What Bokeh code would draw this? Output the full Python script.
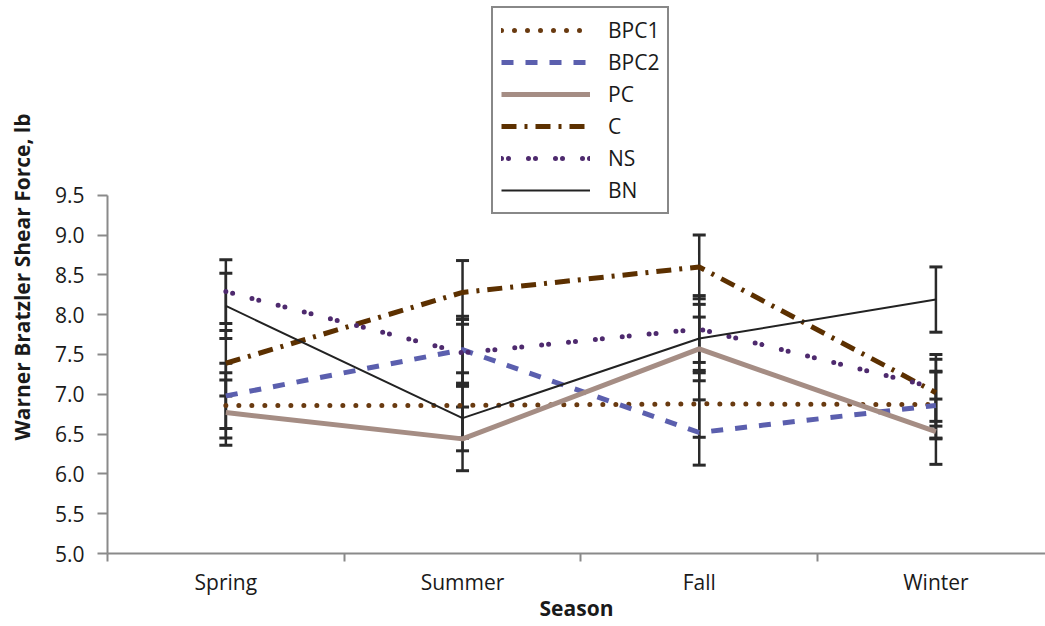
from bokeh.plotting import figure
from bokeh.models import (ColumnDataSource, Whisker, TeeHead, FixedTicker, Range1d,
                          PrintfTickFormatter)
from bokeh.embed import file_html
from bokeh.resources import INLINE

# ---------------- data ----------------
seasons = ["Spring", "Summer", "Fall", "Winter"]
y_ticks = [5.0, 5.5, 6.0, 6.5, 7.0, 7.5, 8.0, 8.5, 9.0, 9.5]

bpc1 = [6.86, 6.86, 6.88, 6.87]
bpc2 = [6.98, 7.56, 6.52, 6.86]
pc = [6.77, 6.44, 7.57, 6.53]
c = [7.39, 8.28, 8.60, 7.02]
ns = [8.29, 7.52, 7.82, 7.08]
bn = [8.11, 6.70, 7.70, 8.19]

bpc1_err = [0.41, 0.41, 0.42, 0.42]
bpc2_err = [0.41, 0.42, 0.41, 0.42]
pc_err = [0.41, 0.40, 0.40, 0.41]
c_err = [0.41, 0.40, 0.40, 0.42]
ns_err = [0.40, 0.42, 0.42, 0.42]
bn_err = [0.41, 0.41, 0.43, 0.41]

FONT = "Open Sans"
TXT = "#1a1a1a"
AXC = "#8a8a8a"
FS = "21px"

x_pos = [i + 0.5 for i in range(len(seasons))]

p = figure(width=1045, height=626, output_backend="svg", toolbar_location=None,
           x_range=Range1d(0, 3.963), y_range=Range1d(5, 11.947),
           min_border_left=107, min_border_right=0, min_border_top=0, min_border_bottom=73)
p.outline_line_color = None
p.xgrid.visible = False
p.ygrid.visible = False
p.background_fill_color = "white"
p.border_fill_color = "white"

styles = [
    ("BPC1", bpc1, bpc1_err, dict(line_color="#693a10", line_width=5, line_dash="0 13", line_cap="round")),
    ("BPC2", bpc2, bpc2_err, dict(line_color="#5b5fae", line_width=5, line_dash="12 12")),
    ("PC", pc, pc_err, dict(line_color="#a58d84", line_width=5)),
    ("C", c, c_err, dict(line_color="#5c3000", line_width=5, line_dash="15 8 3 8")),
    ("NS", ns, ns_err, dict(line_color="#4e2a6e", line_width=5, line_dash="0 7 0 20", line_cap="round")),
    ("BN", bn, bn_err, dict(line_color="#222222", line_width=2)),
]

for name, vals, errs, st in styles:
    src = ColumnDataSource(dict(
        x=x_pos, y=vals,
        upper=[v + e for v, e in zip(vals, errs)],
        lower=[v - e for v, e in zip(vals, errs)],
    ))
    p.line("x", "y", source=src, legend_label=name, **st)
    w = Whisker(source=src, base="x", upper="upper", lower="lower", dimension="height",
                line_color="#2a2a2a", line_width=2.5,
                upper_head=TeeHead(size=13, line_color="#2a2a2a", line_width=3),
                lower_head=TeeHead(size=13, line_color="#2a2a2a", line_width=3))
    p.add_layout(w)

# x axis
xa = p.xaxis[0]
xa.ticker = FixedTicker(ticks=x_pos, minor_ticks=list(range(len(seasons) + 1)))
xa.major_label_overrides = {xp: s for xp, s in zip(x_pos, seasons)}
xa.major_tick_out = 0
xa.major_tick_in = 0
xa.minor_tick_out = 8
xa.minor_tick_in = 0
xa.minor_tick_line_color = AXC
xa.minor_tick_line_width = 2
xa.axis_line_color = AXC
xa.axis_line_width = 2
xa.major_label_standoff = 6
xa.major_label_text_font = FONT
xa.major_label_text_font_size = FS
xa.major_label_text_color = TXT
xa.axis_label = "Season"
xa.axis_label_text_font = FONT
xa.axis_label_text_font_style = "bold"
xa.axis_label_text_font_size = FS
xa.axis_label_text_color = TXT
xa.axis_label_standoff = -5

# y axis
ya = p.yaxis[0]
ya.ticker = FixedTicker(ticks=y_ticks, minor_ticks=[])
ya.formatter = PrintfTickFormatter(format="%.1f")
ya.bounds = (y_ticks[0], y_ticks[-1])
ya.major_tick_out = 10
ya.major_tick_in = 0
ya.major_tick_line_color = AXC
ya.major_tick_line_width = 2
ya.axis_line_color = AXC
ya.axis_line_width = 2
ya.major_label_standoff = 13
ya.major_label_text_font = FONT
ya.major_label_text_font_size = FS
ya.major_label_text_color = TXT
ya.axis_label = "Warner Bratzler Shear Force, lb"
ya.axis_label_text_font = FONT
ya.axis_label_text_font_style = "bold"
ya.axis_label_text_font_size = FS
ya.axis_label_text_color = TXT
ya.axis_label_standoff = 16

# legend
lg = p.legend[0]
lg.location = (384, 339)
lg.margin = 0
lg.padding = 8
lg.spacing = 4
lg.glyph_width = 89
lg.glyph_height = 24
lg.label_height = 24
lg.label_standoff = 18
lg.label_text_font = FONT
lg.label_text_font_size = FS
lg.label_text_color = TXT
lg.border_line_color = "#111111"
lg.border_line_width = 2
lg.background_fill_color = "white"
lg.background_fill_alpha = 1.0

open("out.html", "w").write(file_html(p, INLINE))
